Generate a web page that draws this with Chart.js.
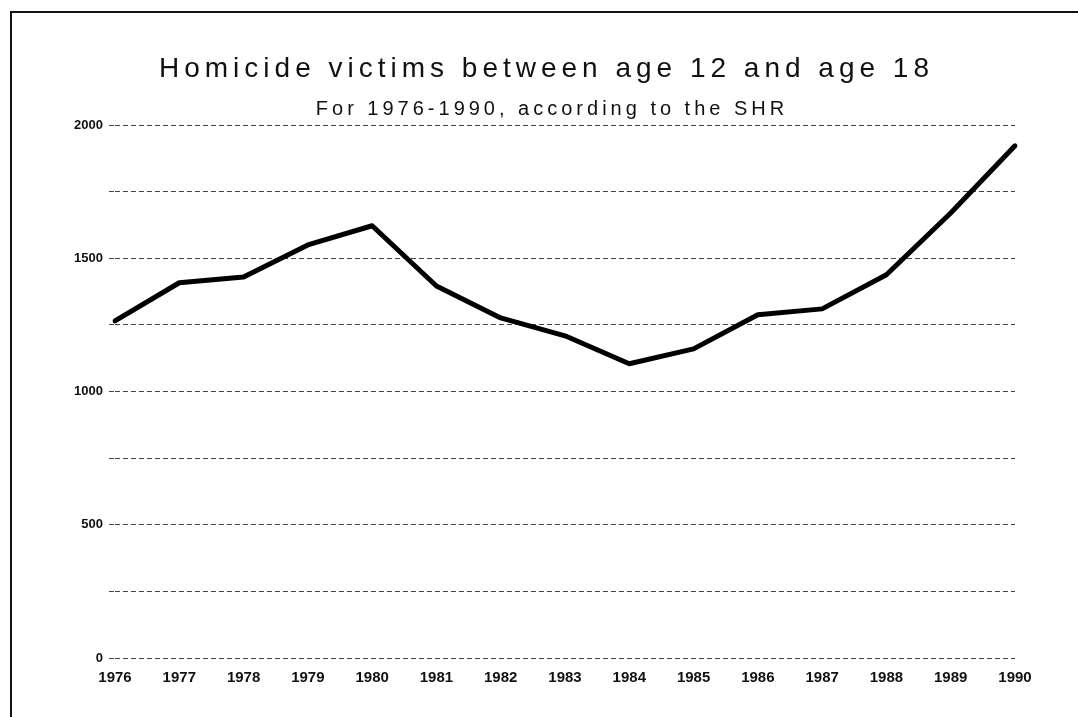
<!DOCTYPE html>
<html>
<head>
<meta charset="utf-8">
<script src="https://cdn.jsdelivr.net/npm/chart.js@4.4.1/dist/chart.umd.min.js"></script>
<style>
  html, body { margin: 0; padding: 0; background: #fff; }
  #quadro { position: relative; width: 1078px; height: 717px; }
  #moldura { position: absolute; left: 10px; top: 11px; right: 0; bottom: 0;
             border-top: 2px solid #111; border-left: 2px solid #111; pointer-events: none; }
</style>
</head>
<body>
<div id="quadro">
  <canvas id="grafico-homicidios" width="1078" height="717"></canvas>
  <div id="moldura"></div>
</div>
<script>
// Dados
const anos = ['1976', '1977', '1978', '1979', '1980', '1981', '1982', '1983',
              '1984', '1985', '1986', '1987', '1988', '1989', '1990'];
const vitimas = [1265, 1408, 1430, 1550, 1622, 1396, 1276, 1209,
                 1104, 1160, 1288, 1310, 1438, 1670, 1922];
const titulo = 'Homicide victims between age 12 and age 18';
const subtitulo = 'For 1976-1990, according to the SHR';

const fonte = '"Liberation Sans", Arial, Helvetica, sans-serif';

// Títulos com espaçamento entre letras (o Chart.js não faz isso sozinho)
const pluginTitulos = {
    id: 'titulosEspacados',
    afterDraw(chart) {
        const ctx = chart.ctx;
        ctx.save();
        ctx.fillStyle = '#111';
        ctx.textAlign = 'center';
        ctx.textBaseline = 'alphabetic';

        ctx.font = '28px ' + fonte;
        ctx.letterSpacing = '5px';
        ctx.fillText(titulo, 544 + 2.5, 77);

        ctx.font = '20px ' + fonte;
        ctx.letterSpacing = '4px';
        ctx.fillText(subtitulo, 550 + 2, 115);
        ctx.restore();
    }
};

const ctx = document.getElementById('grafico-homicidios').getContext('2d');
const graficoHomicidios = new Chart(ctx, {
    type: 'line',
    data: {
        labels: anos,
        datasets: [{
            label: 'Victims',
            data: vitimas,
            borderColor: '#000',
            borderWidth: 5,
            tension: 0,
            pointRadius: 0,
            borderJoinStyle: 'round',
            borderCapStyle: 'round',
            fill: false
        }]
    },
    options: {
        responsive: false,
        animation: false,
        layout: { padding: { left: 20, right: 63, top: 125, bottom: 19 } },
        plugins: {
            legend: { display: false },
            title: { display: false },
            tooltip: { enabled: false }
        },
        scales: {
            x: {
                offset: false,
                grid: { display: false },
                border: { display: false },
                ticks: {
                    color: '#111',
                    font: { family: fonte, size: 15, weight: 'bold' },
                    padding: 3,
                    maxRotation: 0,
                    autoSkip: false
                },
                afterFit(scale) { scale.height = 40; }
            },
            y: {
                min: 0,
                max: 2000,
                // linhas de grade tracejadas
                border: { display: false, dash: [5, 3] },
                grid: {
                    color: '#444',
                    lineWidth: 1,
                    drawTicks: true,
                    tickLength: 6,
                    tickBorderDash: [5, 3]
                },
                ticks: {
                    stepSize: 250,
                    color: '#111',
                    padding: 6,
                    font: { family: fonte, size: 13, weight: 'bold' },
                    callback: (v) => (v % 500 === 0 ? String(v) : '')
                },
                afterFit(scale) { scale.width = 95; }
            }
        }
    },
    plugins: [pluginTitulos]
});
</script>
</body>
</html>
